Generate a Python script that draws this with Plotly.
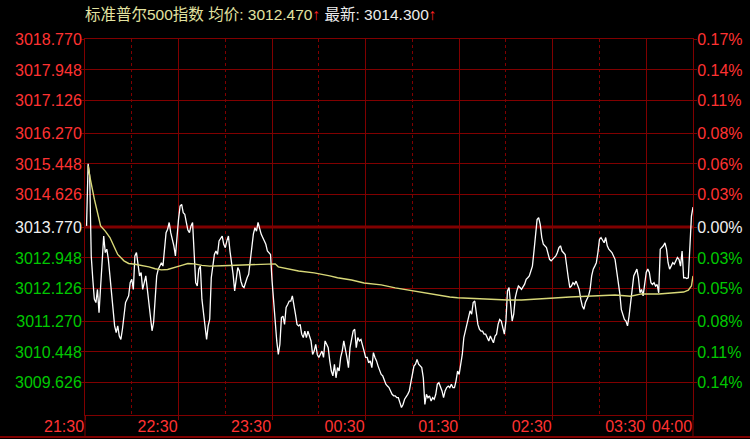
import plotly.graph_objects as go

# ---------------- data ----------------
minutes = [1,2,3,4,5,6,7,8,9,10,11,12,13,14,15,16,17,18,19,20,21,22,23,24,25,26,27,28,29,30,
           31,32,33,34,35,36,37,38,39,40,41,42,43,44,45,46,47,48,49,50,52,53,54,55,57,58,59,60,61,62,
           63,64,65,66,67,68,69,70,71,72,73,74,75,76,77,78,79,80,
           81,82,83,84,85,86,88,89,90,91,92,93,94,95,96,97,98,99,100,101,102,104,105,106,107,108,109,110,
           111,112,113,114,115,116,117,119,120,121,122,123,124,125,126,127,128,129,130,131,132,133,135,136,
           137,138,139,140,141,142,143,144,145,146,147,148,149,150,152,153,154,155,156,
           157,158,159,160,161,162,163,164,165,166,168,169,170,171,172,173,174,175,176,177,178,179,180,181,
           182,183,184,185,186,187,188,189,190,191,193,194,195,196,197,198,199,200,201,202,203,204,205,207,
           208,209,210,211,212,213,214,215,216,217,218,219,220,221,222,223,224,225,226,227,229,230,231,232,233,234,
           235,236,237,238,239,240,241,242,243,245,246,247,248,249,250,251,252,253,254,255,256,257,258,259,
           260,261,262,263,264,265,266,267,268,269,270,271,272,273,274,275,276,277,278,279,280,282,283,284,
           285,286,287,288,289,290,291,292,293,294,296,297,298,299,300,301,302,303,304,305,306,308,309,310,311,
           312,313,314,315,316,317,318,319,320,321,323,324,325,326,327,328,329,330,331,332,333,334,335,336,
           337,338,340,341,342,343,344,345,346,347,348,349,350,351,352,354,355,356,357,358,359,360,361,362,
           363,364,365,366,367,368,369,371,372,373,374,375,376,377,378,379,380,381,382,383,384,385,386,387,
           388,389,390]
price = [3013.80,3015.45,3015.13,3013.00,3012.38,3011.85,3011.76,3012.11,3011.49,3012.20,3013.00,3013.53,
         3013.09,3013.18,3012.91,3012.47,3011.94,3011.49,3011.14,3010.96,3011.14,3010.87,3010.78,3011.05,
         3011.49,3011.76,3011.85,3011.94,3012.29,3012.38,3012.11,3013.00,3013.09,3012.73,3012.47,3012.56,
         3012.11,3012.29,3012.47,3012.11,3011.76,3011.40,3011.01,3011.23,3011.94,3012.47,3012.65,3012.73,
         3012.82,3012.73,3013.62,3013.71,3013.89,3013.62,3013.27,3013.00,3013.53,3013.98,3014.33,3014.37,
         3014.15,3014.11,3013.89,3013.69,3013.62,3013.80,3013.89,3013.18,3012.29,3012.20,3012.65,3012.73,
         3011.85,3011.49,3011.05,3010.78,3011.14,3011.32,
         3012.42,3012.78,3013.04,3013.13,3013.04,3013.40,3013.53,3013.31,3013.22,3013.40,3013.53,3013.13,
         3012.87,3012.51,3012.07,3012.42,3012.69,3012.60,3012.33,3012.20,3012.16,3012.42,3012.51,3012.87,
         3013.31,3013.58,3013.75,3013.66,3013.89,3013.71,3013.58,3013.49,3013.40,3013.31,3013.13,3013.04,
         3012.33,3011.80,3011.18,3010.74,3010.38,3010.65,3011.36,3011.40,3011.18,3011.63,3011.71,3011.80,
         3011.80,3011.94,3011.45,3011.18,3011.14,3011.18,3010.92,3010.83,3011.00,3010.83,3011.00,3010.83,
         3010.74,3010.38,3010.47,3010.65,3010.38,3010.30,3010.47,3010.30,3010.74,3010.65,3010.56,
         3010.21,3009.94,3009.81,3010.12,3009.76,3010.03,3009.94,3010.30,3010.47,3010.74,3010.30,3010.03,
         3010.56,3010.74,3011.00,3011.05,3010.56,3010.83,3010.74,3010.78,3010.65,3010.47,3010.30,3010.30,
         3010.16,3010.21,3010.03,3010.43,3010.30,3010.21,3010.07,3009.98,3009.85,3009.81,3009.59,3009.54,
         3009.50,3009.41,3009.32,3009.28,3009.28,3009.23,3009.23,3009.10,3008.97,3009.05,3009.19,3009.32,
         3009.41,3009.63,3009.85,3010.07,3010.12,3010.25,3010.12,3010.07,3010.03,3009.76,3009.05,3009.32,
         3009.23,3009.28,3009.14,3009.23,3009.19,3009.32,3009.59,3009.63,3009.41,3009.23,3009.41,3009.50,
         3009.54,3009.50,
         3009.59,3009.50,3009.50,3009.68,3009.94,3009.85,3010.12,3010.38,3010.83,3011.18,3011.36,3011.54,
         3011.45,3011.76,3011.80,3011.45,3011.18,3011.05,3011.00,3011.00,3010.92,3010.92,3010.83,3010.74,
         3010.87,3010.78,3010.69,3010.87,3010.92,3011.18,3011.31,3011.27,3011.09,3010.92,3011.27,3012.07,
         3012.16,3011.80,3011.27,3011.45,3011.89,3012.07,3012.20,3012.16,3012.11,3012.25,3012.38,3012.42,
         3012.47,3012.60,3012.73,3013.13,3013.66,3013.97,3014.02,3013.84,3013.49,3013.31,3013.22,3013.04,
         3012.91,3012.87,3012.91,3012.95,3013.00,3013.09,3013.22,3013.27,3013.13,3013.04,3012.69,3012.42,
         3012.16,
         3012.20,3012.29,3012.24,3012.33,3012.20,3012.11,3011.85,3011.67,3011.58,3011.76,3011.94,3012.11,
         3012.47,3012.65,3012.73,3012.82,3013.09,3013.44,3013.49,3013.40,3013.35,3013.49,3013.27,3013.18,
         3013.13,3013.09,3012.91,3012.65,3012.38,3012.02,3011.58,3011.45,3011.31,3011.27,3011.14,3011.40,
         3011.76,3012.20,3012.47,3012.65,3012.42,3012.02,3012.11,3011.94,3012.29,3012.56,3012.65,3012.56,
         3012.29,3012.24,3012.29,3012.20,3012.24,3012.02,3013.18,3013.27,3013.35,3013.18,3012.82,3012.65,
         3012.73,3012.82,3012.78,3012.87,3012.96,3012.91,3012.73,3013.13,3012.42,3012.42,3012.40,3012.42,
         3013.09,3014.06,3014.30]

avg_minutes = [2,3,6,10,13,16,19,21,25,28,32,36,41,45,49,53,58,62,66,70,75,80,88,100,112,118,122,124,130,
               137,147,152,157,162,171,179,190,199,208,218,226,234,239,255,271,280,292,301,311,329,340,350,
               357,368,378,384,387,389,390]
avg_price = [3015.40,3015.13,3014.51,3013.80,3013.66,3013.49,3013.22,3013.04,3012.87,3012.80,3012.78,3012.75,
             3012.71,3012.66,3012.63,3012.64,3012.69,3012.75,3012.80,3012.79,3012.75,3012.73,3012.74,3012.76,
             3012.79,3012.79,3012.79,3012.71,3012.65,3012.60,3012.55,3012.52,3012.47,3012.42,3012.36,3012.28,
             3012.23,3012.15,3012.09,3012.01,3011.96,3011.91,3011.89,3011.85,3011.83,3011.83,3011.85,3011.88,
             3011.91,3011.93,3011.96,3011.93,3011.99,3011.99,3012.01,3012.04,3012.09,3012.20,3012.47]

base_price = 3013.770
price_labels = ["3009.626","3010.448","3011.270","3012.126","3012.948","3013.770",
                "3014.626","3015.448","3016.270","3017.126","3017.948","3018.770"]
pct_labels = ["0.14%","0.11%","0.08%","0.05%","0.03%","0.00%",
              "0.03%","0.06%","0.08%","0.11%","0.14%","0.17%"]
time_ticks = [0, 60, 120, 180, 240, 300, 360, 390]
time_labels = ["21:30","22:30","23:30","00:30","01:30","02:30","03:30","04:00"]

title_name = "标准普尔500指数"
avg_value = "3012.470"
last_value = "3014.300"

# ---------------- style ----------------
GRID = "#800000"
RED = "#ff3232"
GREEN = "#00c800"
WHITE = "#f0f0f0"
FONT = "Liberation Sans, Arial, Noto Sans CJK SC"

price_vals = [float(v) for v in price_labels]

def colored(txt, val):
    c = RED if val > base_price + 1e-9 else (GREEN if val < base_price - 1e-9 else WHITE)
    return f'<span style="color:{c}">{txt}</span>'

left_text = [colored(t, v) for t, v in zip(price_labels, price_vals)]
right_text = [colored(t, v) for t, v in zip(pct_labels, price_vals)]

y_lo = base_price - 5.0
y_hi = base_price + 5.0 + 1e-6

fig = go.Figure()
fig.add_trace(go.Scatter(x=minutes, y=price, mode="lines",
                         line=dict(color="#ffffff", width=1.3), hoverinfo="skip"))
fig.add_trace(go.Scatter(x=avg_minutes, y=avg_price, mode="lines", yaxis="y2",
                         line=dict(color="#d8d878", width=1.4), hoverinfo="skip"))

minor_ticks = [t + 30 for t in time_ticks[:-2]]

fig.update_layout(
    width=750, height=439,
    margin=dict(l=85, r=57, t=39, b=24),
    paper_bgcolor="black", plot_bgcolor="black",
    showlegend=False,
    font=dict(family=FONT, size=16, color=RED),
    xaxis=dict(range=[0, 390], tickmode="array", tickvals=time_ticks, ticktext=time_labels,
               tickfont=dict(color=RED, size=16, family=FONT),
               ticks="outside", ticklen=4, tickcolor=GRID,
               showgrid=True, gridcolor=GRID, gridwidth=1,
               showline=True, linecolor=GRID, linewidth=1, mirror=True,
               zeroline=False, ticklabelshift=-21, ticklabelstandoff=-7,
               automargin=False,
               minor=dict(tickvals=minor_ticks, showgrid=True, griddash="dot",
                          gridcolor=GRID, gridwidth=1, ticks="")),
    yaxis=dict(range=[y_lo, y_hi], tickmode="array", tickvals=price_vals, ticktext=left_text,
               tickfont=dict(size=16, family=FONT),
               ticks="outside", ticklen=3, tickcolor=GRID,
               showgrid=True, gridcolor=GRID, gridwidth=1,
               showline=True, linecolor=GRID, linewidth=1,
               zeroline=False, automargin=False, ticklabelstandoff=-4),
    yaxis2=dict(range=[y_lo, y_hi], overlaying="y", side="right", tickmode="array",
                tickvals=price_vals, ticktext=right_text,
                tickfont=dict(size=16, family=FONT),
                ticks="outside", ticklen=3, tickcolor=GRID,
                showgrid=False, showline=True, linecolor=GRID, linewidth=1,
                zeroline=False, automargin=False, ticklabelstandoff=-3),
)

plot_w = 750 - 85 - 57
plot_h = 439 - 39 - 24
bottom_y = -22 / plot_h

fig.add_shape(type="line", xref="paper", yref="y", x0=0, x1=1, y0=base_price, y1=base_price,
              line=dict(color=GRID, width=3), layer="below")
fig.add_shape(type="line", xref="paper", yref="paper", x0=-85 / plot_w, x1=(750 - 85) / plot_w,
              y0=bottom_y, y1=bottom_y, line=dict(color=GRID, width=2))
for xp in (0, 1):
    fig.add_shape(type="line", xref="paper", yref="paper", x0=xp, x1=xp, y0=bottom_y, y1=0,
                  line=dict(color=GRID, width=1))

title_html = (f'<span style="color:#e2e2a0">{title_name} 均价: {avg_value}</span>'
              f'<span style="color:#ff2020">↑</span>'
              f'<span style="color:#ececec"> 最新: {last_value}</span>'
              f'<span style="color:#ff2020">↑</span>')
fig.add_annotation(text=title_html, xref="paper", yref="paper", x=0, y=1 + 25 / plot_h,
                   xanchor="left", yanchor="middle", showarrow=False, xshift=-2,
                   font=dict(size=15.5, family=FONT))

fig.write_html("out.html",
               config={"displayModeBar": False},
               post_script="document.body.style.margin='0';document.body.style.background='black';"
                           "document.body.style.overflow='hidden';")
